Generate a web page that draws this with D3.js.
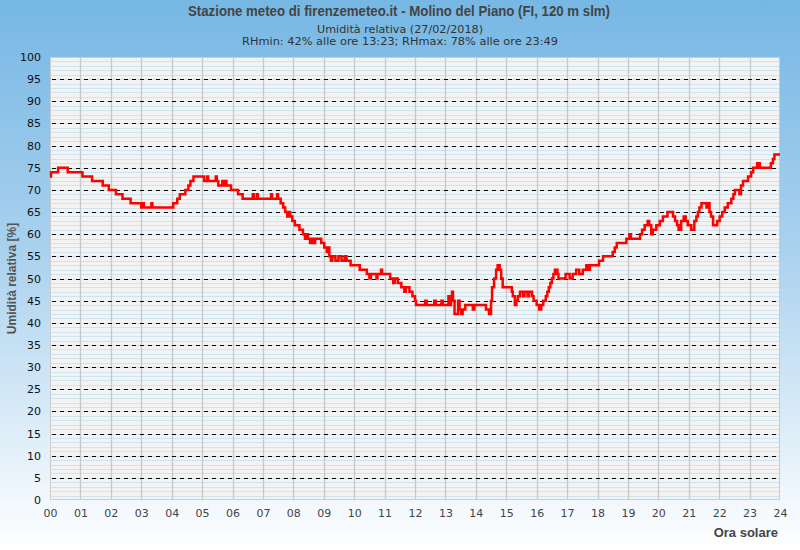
<!DOCTYPE html>
<html>
<head>
<meta charset="utf-8">
<script src="https://cdn.jsdelivr.net/npm/d3@7"></script>
<style>
  body { margin: 0; }
  svg { display: block; }
</style>
</head>
<body>
<div id="chart"></div>
<script>
"use strict"

const title = "Stazione meteo di firenzemeteo.it - Molino del Piano (FI, 120 m slm)"
const subtitleLines = ["Umidità relativa (27/02/2018)", "RHmin: 42% alle ore 13:23; RHmax: 78% alle ore 23:49"]
const yTitle = "Umidità relativa [%]"
const xTitle = "Ora solare"

const hourLabels = ["00", "01", "02", "03", "04", "05", "06", "07", "08", "09", "10", "11", "12",
    "13", "14", "15", "16", "17", "18", "19", "20", "21", "22", "23", "24"]
const rhTicks = [0, 5, 10, 15, 20, 25, 30, 35, 40, 45, 50, 55, 60, 65, 70, 75, 80, 85, 90, 95, 100]

// readings (time of change, RH %)
const times = [
    "00:00", "00:02", "00:16", "00:35", "01:04", "01:23", "01:44", "01:56", "02:10", "02:23",
    "02:39", "03:00", "03:03", "03:05", "03:20", "03:22", "04:03", "04:11", "04:16", "04:27",
    "04:33", "04:37", "04:43", "05:04", "05:10", "05:12", "05:27", "05:29", "05:32", "05:40",
    "05:42", "05:46", "05:48", "05:57", "06:11", "06:20", "06:40", "06:42", "06:48", "06:50",
    "07:16", "07:18", "07:28", "07:30", "07:35", "07:40", "07:44", "07:48", "07:51", "07:54",
    "07:58", "08:03", "08:12", "08:19", "08:23", "08:26", "08:29", "08:33", "08:36", "08:39",
    "08:43", "08:55", "09:01", "09:06", "09:08", "09:11", "09:14", "09:17", "09:23", "09:29",
    "09:35", "09:41", "09:45", "09:53", "10:11", "10:25", "10:30", "10:33", "10:44", "10:46",
    "10:53", "10:55", "11:11", "11:17", "11:20", "11:26", "11:33", "11:39", "11:42", "11:49",
    "11:55", "12:00", "12:02", "12:20", "12:23", "12:38", "12:41", "12:52", "12:55", "13:06",
    "13:08", "13:11", "13:13", "13:15", "13:18", "13:23", "13:25", "13:28", "13:31", "13:34",
    "13:39", "13:54", "13:57", "14:20", "14:26", "14:30", "14:32", "14:36", "14:40", "14:43",
    "14:47", "14:50", "14:53", "15:11", "15:13", "15:17", "15:20", "15:23", "15:27", "15:33",
    "15:36", "15:42", "15:45", "15:51", "15:54", "16:00", "16:05", "16:09", "16:13", "16:18",
    "16:21", "16:24", "16:27", "16:30", "16:33", "16:36", "16:41", "16:43", "16:57", "17:05",
    "17:11", "17:18", "17:24", "17:31", "17:38", "17:41", "17:45", "18:03", "18:11", "18:30",
    "18:34", "18:38", "18:57", "19:03", "19:06", "19:24", "19:28", "19:33", "19:39", "19:42",
    "19:46", "19:49", "19:56", "20:03", "20:09", "20:18", "20:29", "20:33", "20:37", "20:40",
    "20:45", "20:50", "20:54", "20:58", "21:05", "21:11", "21:15", "21:18", "21:21", "21:25",
    "21:35", "21:38", "21:41", "21:44", "21:48", "21:56", "22:01", "22:06", "22:11", "22:17",
    "22:24", "22:28", "22:31", "22:40", "22:43", "22:47", "22:57", "23:03", "23:07", "23:15",
    "23:20", "23:42", "23:46", "23:49", "24:00"
]
const rh = [
    73, 74, 75, 74, 73, 72, 71, 70, 69, 68,
    67, 66, 67, 66, 67, 66, 67, 68, 69, 70,
    71, 72, 73, 72, 73, 72, 73, 72, 71, 72,
    71, 72, 71, 70, 69, 68, 69, 68, 69, 68,
    69, 68, 69, 68, 67, 66, 65, 64, 65, 64,
    63, 62, 61, 60, 59, 60, 59, 58, 59, 58,
    59, 58, 57, 56, 57, 55, 54, 55, 54, 55,
    54, 55, 54, 53, 52, 51, 50, 51, 50, 51,
    52, 51, 50, 49, 50, 49, 48, 47, 48, 47,
    46, 45, 44, 45, 44, 45, 44, 45, 44, 46,
    44, 45, 47, 45, 42, 42, 45, 43, 42, 43,
    44, 43, 44, 43, 42, 45, 48, 50, 52, 53,
    52, 50, 48, 47, 46, 44, 45, 46, 47, 46,
    47, 46, 47, 46, 45, 44, 43, 44, 45, 46,
    47, 48, 49, 50, 51, 52, 51, 50, 51, 50,
    51, 52, 51, 52, 53, 52, 53, 54, 55, 56,
    57, 58, 59, 60, 59, 60, 61, 62, 63, 62,
    60, 61, 62, 63, 64, 65, 64, 63, 62, 61,
    63, 64, 63, 62, 61, 63, 64, 65, 66, 67,
    66, 67, 65, 64, 62, 63, 64, 65, 66, 67,
    68, 69, 70, 69, 71, 72, 73, 74, 75, 76,
    75, 76, 77, 78, 78
]

const size = { width: 800, height: 550 }
const plot = { left: 50, right: 780, top: 57, bottom: 500 }

const toMinutes = s => {
    const [h, m] = s.split(":").map(Number)
    return h * 60 + m
}
const series = times.map((t, i) => ({ t: toMinutes(t), v: rh[i] }))

const x = d3.scaleLinear().domain([0, 1440]).range([plot.left, plot.right])
const y = d3.scaleLinear().domain([0, 100]).range([plot.bottom, plot.top])

const svg = d3.select("#chart")
    .append("svg")
    .attr("width", size.width)
    .attr("height", size.height)

const grad = svg.append("defs")
    .append("linearGradient")
    .attr("id", "bg")
    .attr("x1", 0).attr("y1", 0).attr("x2", 0).attr("y2", 1)
grad.append("stop").attr("offset", "0%").attr("stop-color", "#76b7e4")
grad.append("stop").attr("offset", "45%").attr("stop-color", "#a9d1ee")
grad.append("stop").attr("offset", "100%").attr("stop-color", "#ffffff")

svg.append("rect")
    .attr("width", size.width)
    .attr("height", size.height)
    .attr("fill", "url(#bg)")

// plot area
svg.append("rect")
    .attr("x", plot.left)
    .attr("y", plot.top)
    .attr("width", plot.right - plot.left)
    .attr("height", plot.bottom - plot.top)
    .attr("fill", "#f3f3f3")

const grid = svg.append("g")
grid.selectAll(".minor")
    .data(d3.range(1, 100))
    .enter()
    .append("line")
    .attr("x1", plot.left).attr("x2", plot.right)
    .attr("y1", d => Math.round(y(d)) + 0.5)
    .attr("y2", d => Math.round(y(d)) + 0.5)
    .attr("stroke", "#cde3ef")
grid.selectAll(".hour")
    .data(d3.range(1, 24))
    .enter()
    .append("line")
    .attr("x1", d => Math.round(x(d * 60)) + 0.5)
    .attr("x2", d => Math.round(x(d * 60)) + 0.5)
    .attr("y1", plot.top).attr("y2", plot.bottom)
    .attr("stroke", "#c8c8c8")
    .attr("stroke-width", 1.3)
grid.selectAll(".major")
    .data(rhTicks.filter(d => d > 0 && d < 100))
    .enter()
    .append("line")
    .attr("x1", plot.left + 2).attr("x2", plot.right)
    .attr("y1", d => Math.round(y(d)) + 0.5)
    .attr("y2", d => Math.round(y(d)) + 0.5)
    .attr("stroke", "#000")
    .attr("stroke-dasharray", "4,4")

svg.append("rect")
    .attr("x", plot.left + 0.5)
    .attr("y", plot.top + 0.5)
    .attr("width", plot.right - plot.left - 1)
    .attr("height", plot.bottom - plot.top - 1)
    .attr("fill", "none")
    .attr("stroke", "#cccccc")

// humidity trace
const line = d3.line()
    .x(d => x(d.t))
    .y(d => y(d.v))
    .curve(d3.curveStepAfter)
svg.append("path")
    .datum(series)
    .attr("d", line)
    .attr("fill", "none")
    .attr("stroke", "#ff0000")
    .attr("stroke-width", 2.5)

// axes
const yAxis = svg.append("g")
    .attr("transform", `translate(${plot.left}, 0)`)
    .call(d3.axisLeft(y).tickValues(rhTicks).tickSize(0).tickPadding(9))
yAxis.select(".domain").remove()
yAxis.selectAll("text")
    .style("font-family", "DejaVu Sans")
    .style("font-size", "11px")
    .attr("fill", "#111")

const xAxis = svg.append("g")
    .attr("transform", `translate(0, ${plot.bottom})`)
    .call(d3.axisBottom(x)
        .tickValues(hourLabels.map((d, i) => i * 60))
        .tickFormat((d, i) => hourLabels[i])
        .tickSize(0).tickPadding(9))
xAxis.select(".domain").remove()
xAxis.selectAll("text")
    .style("font-family", "DejaVu Sans")
    .style("font-size", "11px")
    .attr("fill", "#444")

// titles
svg.append("text")
    .attr("x", 399).attr("y", 16)
    .attr("text-anchor", "middle")
    .attr("textLength", 422)
    .attr("lengthAdjust", "spacingAndGlyphs")
    .style("font-family", "Liberation Sans, Arial, sans-serif")
    .style("font-weight", "bold")
    .style("font-size", "14px")
    .attr("fill", "#444")
    .text(title)
svg.selectAll(".subtitle")
    .data(subtitleLines)
    .enter()
    .append("text")
    .attr("x", 400)
    .attr("y", (d, i) => 33 + i * 12)
    .attr("text-anchor", "middle")
    .attr("textLength", (d, i) => [166, 316][i])
    .attr("lengthAdjust", "spacingAndGlyphs")
    .style("font-family", "DejaVu Sans")
    .style("font-size", "11px")
    .attr("fill", "#333")
    .text(d => d)

svg.append("text")
    .attr("transform", `translate(16, ${(plot.top + plot.bottom) / 2}) rotate(-90)`)
    .attr("text-anchor", "middle")
    .style("font-family", "Liberation Sans")
    .style("font-weight", "bold")
    .style("font-size", "12px")
    .attr("fill", "#555")
    .text(yTitle)
svg.append("text")
    .attr("x", 778).attr("y", 537)
    .attr("text-anchor", "end")
    .style("font-family", "Liberation Sans")
    .style("font-weight", "bold")
    .style("font-size", "13px")
    .attr("fill", "#444")
    .text(xTitle)
</script>
</body>
</html>
